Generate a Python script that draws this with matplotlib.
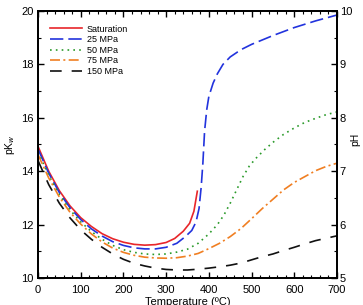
import matplotlib
matplotlib.use("Agg")
import matplotlib.pyplot as plt
from matplotlib.ticker import MultipleLocator

plt.rcParams['font.family'] = ['Liberation Sans', 'DejaVu Sans']

# Saturation curve
T_sat = [0, 25, 50, 75, 100, 125, 150, 175, 200, 225, 250, 275, 300, 320, 340, 355, 365, 373]
pk_sat = [14.93, 14.0, 13.27, 12.7, 12.26, 11.93, 11.66, 11.47, 11.34, 11.26, 11.23, 11.25,
          11.33, 11.48, 11.75, 12.05, 12.5, 13.25]

# 25 MPa
T_25 = [0, 25, 50, 75, 100, 125, 150, 175, 200, 225, 250, 275, 300, 325, 345, 360, 370, 377,
        382, 386, 390, 395, 400, 410, 420, 433, 450, 475, 500, 550, 600, 650, 700]
pk_25 = [14.83, 13.93, 13.2, 12.63, 12.19, 11.84, 11.57, 11.36, 11.22, 11.13, 11.09, 11.09,
         11.15, 11.3, 11.55, 11.78, 12.1, 12.6, 13.4, 14.3, 15.5, 16.3, 16.8, 17.3, 17.65,
         18.0, 18.28, 18.55, 18.75, 19.08, 19.38, 19.63, 19.85]

# 50 MPa
T_50 = [0, 25, 50, 75, 100, 125, 150, 175, 200, 225, 250, 275, 300, 325, 350, 375, 400, 420,
        435, 450, 465, 480, 495, 510, 530, 550, 575, 600, 625, 650, 675, 700]
pk_50 = [14.72, 13.85, 13.12, 12.55, 12.1, 11.74, 11.45, 11.22, 11.06, 10.96, 10.9, 10.88,
         10.9, 10.97, 11.08, 11.3, 11.65, 12.0, 12.35, 12.8, 13.3, 13.8, 14.2, 14.48, 14.8,
         15.08, 15.38, 15.62, 15.83, 15.98, 16.12, 16.22]

# 75 MPa
T_75 = [0, 25, 50, 75, 100, 125, 150, 175, 200, 225, 250, 275, 300, 325, 350, 375, 400, 425,
        450, 475, 500, 525, 550, 575, 600, 625, 650, 675, 700]
pk_75 = [14.62, 13.75, 13.03, 12.46, 12.02, 11.65, 11.35, 11.12, 10.96, 10.85, 10.78, 10.75,
         10.74, 10.76, 10.82, 10.92, 11.1, 11.3, 11.55, 11.85, 12.22, 12.6, 12.95, 13.3,
         13.58, 13.8, 14.02, 14.18, 14.3]

# 150 MPa
T_150 = [0, 25, 50, 75, 100, 125, 150, 175, 200, 225, 250, 275, 300, 325, 350, 375, 400, 425,
         450, 475, 500, 525, 550, 575, 600, 625, 650, 675, 700]
pk_150 = [14.4, 13.5, 12.8, 12.25, 11.8, 11.45, 11.15, 10.9, 10.7, 10.55, 10.45, 10.37, 10.32,
          10.3, 10.3, 10.33, 10.37, 10.42, 10.48, 10.56, 10.68, 10.8, 10.9, 11.03, 11.15,
          11.28, 11.4, 11.49, 11.58]

labels = ["Saturation", "25 MPa", "50 MPa", "75 MPa", "150 MPa"]

fig = plt.figure(figsize=(3.63, 3.05), dpi=100)
ax = fig.add_axes([38 / 363, 1 - 278 / 305, 299 / 363, 267 / 305])

lw = 1.2
ax.plot(T_sat, pk_sat, color="#e8262a", lw=lw, ls="-", label=labels[0])
ax.plot(T_25, pk_25, color="#2233dd", lw=lw, ls=(0, (8, 3)), label=labels[1])
ax.plot(T_50, pk_50, color="#2a9a2a", lw=lw, ls=(0, (1, 2.5)), label=labels[2])
ax.plot(T_75, pk_75, color="#f07f22", lw=lw, ls=(0, (6, 2, 1.2, 2)), label=labels[3])
ax.plot(T_150, pk_150, color="#111111", lw=lw, ls=(0, (7, 6)), label=labels[4])

ax.set_xlim(0, 700)
ax.set_ylim(10, 20)
ax.xaxis.set_major_locator(MultipleLocator(100))
ax.xaxis.set_minor_locator(MultipleLocator(20))
ax.yaxis.set_major_locator(MultipleLocator(2))
ax.yaxis.set_minor_locator(MultipleLocator(1))
ax.tick_params(which="both", direction="in", top=True, right=False, labelsize=8, pad=3)
ax.tick_params(axis="x", pad=5)
ax.tick_params(which="major", length=4, width=1)
ax.tick_params(which="minor", length=2, width=0.8)
for s in ax.spines.values():
    s.set_linewidth(1.3)

ax.set_ylabel("pK$_w$", fontsize=7.5, va="center")
ax.yaxis.set_label_coords(-0.095, 0.5)
ax.set_xlabel("Temperature (ºC)", fontsize=8)
ax.xaxis.set_label_coords(0.5, -0.072)

ax2 = ax.twinx()
ax2.set_ylim(5, 10)
ax2.yaxis.set_major_locator(MultipleLocator(1))
ax2.yaxis.set_minor_locator(MultipleLocator(0.5))
ax2.tick_params(which="both", direction="in", labelsize=8, pad=2)
ax2.tick_params(which="major", length=4, width=1)
ax2.tick_params(which="minor", length=2, width=0.8)
ax2.set_ylabel("pH", fontsize=7.5, rotation=90, va="center")
ax2.yaxis.set_label_coords(1.06, 0.52)
for s in ax2.spines.values():
    s.set_linewidth(1.3)

leg = ax.legend(loc="upper left", bbox_to_anchor=(0.028, 0.9625), frameon=False, fontsize=6.5,
                handlelength=3.5, handletextpad=0.55, labelspacing=0.18, borderaxespad=0.0)

fig.savefig("out.png", dpi=100)
